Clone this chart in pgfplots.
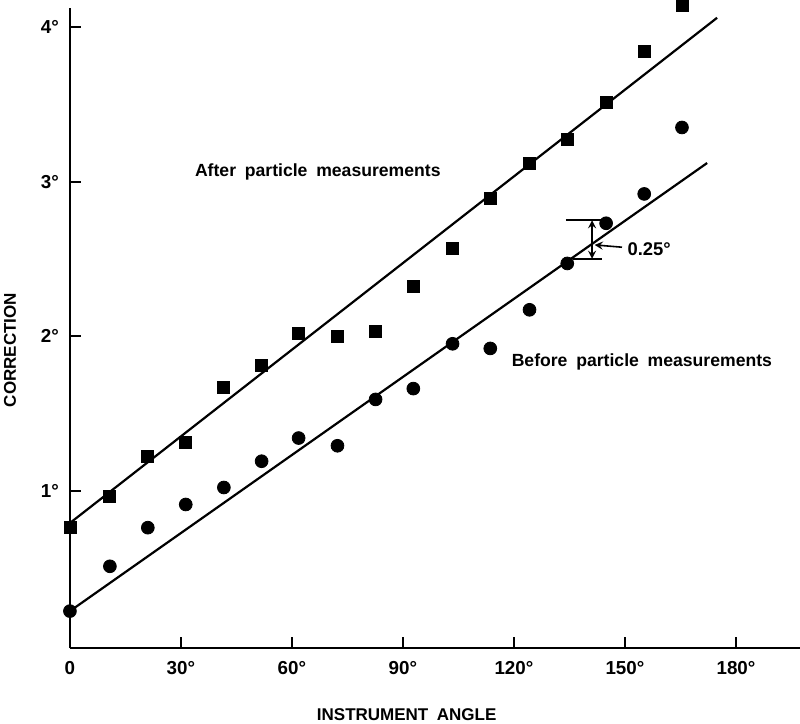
\documentclass[border=0pt]{standalone}
\usepackage{pgfplots}
\pgfplotsset{compat=1.18}
\usepackage{fontspec}
\setmainfont{Liberation Sans}

\begin{document}
\begin{tikzpicture}
\begin{axis}[
    scale only axis,
    width=365pt, height=320pt,
    xmin=0, xmax=197.3,
    ymin=-0.0194, ymax=4.123,
    axis x line*=bottom, axis y line*=left,
    axis line style={line width=1.3pt},
    tick align=inside,
    major tick length=5.5pt,
    tick style={line width=1pt, black},
    xtick={0,30,60,90,120,150,180},
    xticklabels={0,30°,60°,90°,120°,150°,180°},
    ytick={1,2,3,4},
    yticklabels={1°,2°,3°,4°},
    ticklabel style={font=\bfseries\fontsize{9.4}{10}\selectfont},
    xticklabel style={yshift=-3pt},
    yticklabel style={xshift=-2pt},
    clip=false,
  ]
  % after particle measurements (squares)
  \addplot[only marks, mark=square*, mark size=3pt, black] coordinates {
      (0,0.76) (10.8,0.96) (21.05,1.22) (31.3,1.31) (41.6,1.67)
      (51.8,1.81) (61.8,2.02) (72.3,2.00) (82.6,2.03) (92.8,2.32)
      (103.4,2.57) (113.6,2.89) (124.2,3.12) (134.4,3.27) (144.9,3.51)
      (155.2,3.84) (165.4,4.14)
    };
  % before particle measurements (circles)
  \addplot[only marks, mark=*, mark size=3.2pt, black] coordinates {
      (0,0.22) (10.8,0.51) (21.05,0.76) (31.3,0.91) (41.6,1.02)
      (51.8,1.19) (61.8,1.34) (72.3,1.29) (82.6,1.59) (92.8,1.66)
      (103.4,1.95) (113.6,1.92) (124.2,2.17) (134.4,2.47) (144.9,2.73)
      (155.2,2.92) (165.4,3.35)
    };
  % fitted lines
  \addplot[black, line width=1.1pt] coordinates {(0,0.79) (174.9,4.06)};
  \addplot[black, line width=1.1pt] coordinates {(0,0.22) (172.2,3.12)};

  % 0.25 degree offset marker
  \draw[line width=0.8pt] (axis cs:134.0,2.75) -- (axis cs:144.0,2.75);
  \draw[line width=0.8pt] (axis cs:135.9,2.50) -- (axis cs:143.8,2.50);
  \draw[line width=0.8pt, <->, >=stealth] (axis cs:141.1,2.50) -- (axis cs:141.1,2.75);
  \draw[line width=0.8pt, ->, >=stealth] (axis cs:149.2,2.575) -- (axis cs:141.8,2.59);
  \node[anchor=west, inner sep=0pt, font=\bfseries\fontsize{9.2}{11}\selectfont] at (axis cs:150.6,2.56) {0.25°};

  \node[anchor=west, inner sep=0pt, font=\bfseries\fontsize{8.8}{11}\selectfont]
    at (axis cs:33.7,3.06) {After\hspace{0.5em}particle\hspace{0.5em}measurements};
  \node[anchor=west, inner sep=0pt, font=\bfseries\fontsize{8.8}{11}\selectfont]
    at (axis cs:119.3,1.83) {Before\hspace{0.5em}particle\hspace{0.5em}measurements};

  \node[inner sep=0pt, font=\bfseries\fontsize{8.5}{10}\selectfont] at (axis cs:91,-0.453) {INSTRUMENT\hspace{0.5em}ANGLE};
  \node[inner sep=0pt, rotate=90, font=\bfseries\fontsize{8.5}{10}\selectfont] at (axis cs:-16.2,1.91) {CORRECTION};

  \coordinate (bbl) at (axis cs:-18.9,-0.505);
  \coordinate (btr) at (axis cs:197.3,4.175);
\end{axis}
\pgfresetboundingbox
\path[use as bounding box] (bbl) rectangle (btr);
\end{tikzpicture}
\end{document}
